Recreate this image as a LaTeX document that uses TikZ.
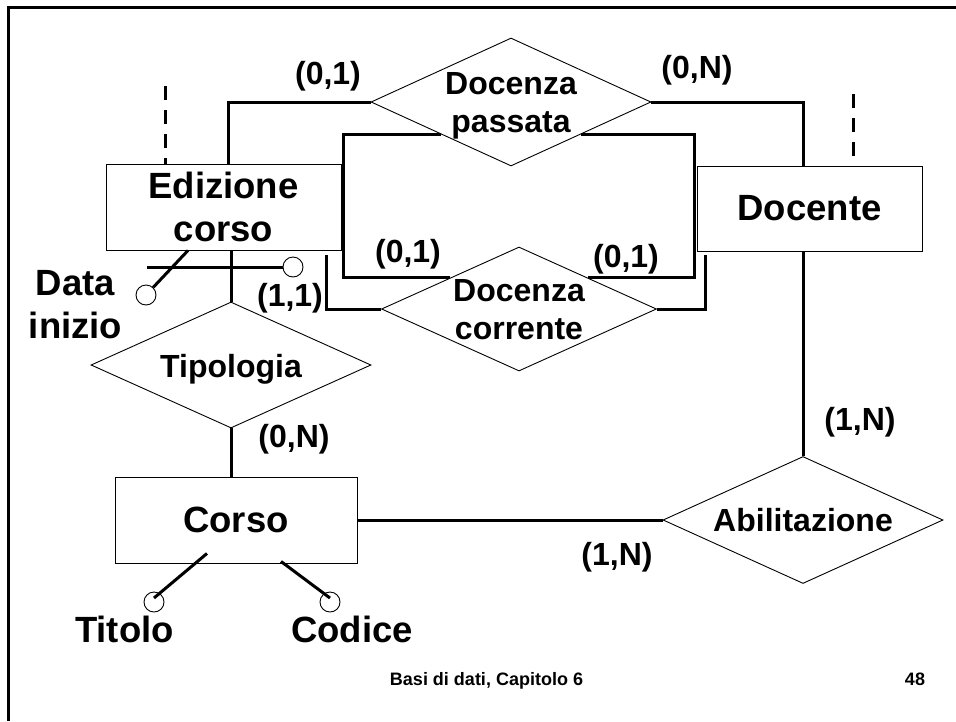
\documentclass[tikz,border=0pt]{standalone}
\usepackage{fontspec}
\setmainfont{Liberation Sans}
\usetikzlibrary{shapes.geometric,calc}
\begin{document}
\begin{tikzpicture}[x=1pt,y=-1pt,
      entity/.style={draw,line width=0.9pt,minimum height=86pt,inner sep=0pt,align=center,font=\fontsize{36.5}{43}\selectfont\bfseries},
      relation/.style={draw,diamond,line width=0.9pt,minimum width=280pt,minimum height=127pt,inner sep=0pt},
      reltext/.style={align=center,inner sep=0pt,font=\fontsize{32}{38}\selectfont\bfseries},
      card/.style={inner sep=0pt,font=\fontsize{32}{38}\selectfont\bfseries},
      attrtext/.style={align=center,inner sep=0pt,font=\fontsize{36.5}{43}\selectfont\bfseries},
      dot/.style={draw,circle,line width=0.9pt,minimum size=20pt,inner sep=0pt},
      link/.style={line width=3pt},
      dlink/.style={line width=3pt,dash pattern=on 14pt off 10pt}]
      \useasboundingbox (0,0) rectangle (956,721);
      \draw[line width=3pt] (8.5,721) -- (8.5,7.5) -- (956,7.5);
      \node[entity,minimum width=235pt] (ed) at (223.5,207) {Edizione\\corso};
      \node[entity,minimum width=225pt,minimum height=85pt] (doc) at (809.5,208.5) {Docente};
      \node[entity,minimum width=242pt] (co) at (236,520) {Corso};
      \node[relation,minimum height=128pt] (dp) at (511,102) {};
      \node[relation,minimum width=275pt,minimum height=124pt] (dc) at (519,309) {};
      \node[relation,minimum height=126pt] (tp) at (231,365) {};
      \node[relation] (ab) at (803,520) {};
      \node[reltext] (dptext) at (511,106) {Docenza\\passata};
      \node[reltext] (dctext) at (519,310) {Docenza\\corrente};
      \node[reltext] (tptext) at (231,369) {Tipologia};
      \node[reltext] (abtext) at (803,520.5) {Abilitazione};
      \draw[link] ([xshift=4.5pt]ed.north) |- (dp.west);
      \draw[link] (dp.east) -| ([xshift=-6.5pt]doc.north);
      \draw[link] (dp.south west) -| ($(ed.east)+(2,0)$) |- (dc.north west);
      \draw[link] (dp.south east) -| ($(doc.west)+(-2,0)$) |- (dc.north east);
      \coordinate (ccl) at (326.5,255);
      \coordinate (ccr) at (705,255);
      \draw[link] (ccl) |- (dc.west);
      \draw[link] (ccr) |- (dc.east);
      \draw[link] (tp.north |- ed.south) -- (tp.north);
      \draw[link] (tp.south) -- (tp.south |- co.north);
      \draw[link] (co.east) -- (ab.west);
      \draw[link] ([xshift=-6.5pt]doc.south) -- (ab.north);
      \coordinate (edtop) at (165,86);
      \coordinate (doctop) at (853,94);
      \draw[dlink] (edtop) -- (edtop |- ed.north);
      \draw[dlink] (doctop) -- (doctop |- doc.north);
      \node[dot] (din) at (146,295) {};
      \node[dot] (idc) at (293,267) {};
      \node[dot] (tit) at (154,602) {};
      \node[dot] (cod) at (330,602) {};
      \coordinate (ids) at (147,267);
      \draw[link] ([xshift=-35.5pt]ed.south) -- (din);
      \draw[link] (ids) -- (idc);
      \draw[link] ($(co.south)+(-29,-10)$) -- ($(tit.center)+(0,-4)$);
      \draw[link] ($(co.south)+(45,-2)$) -- ($(cod.center)+(0,-4)$);
      \node[attrtext] (dintext) at (75.5,305) {Data\\inizio};
      \node[attrtext,anchor=base] (tittext) at (124.5,642) {Titolo};
      \node[attrtext,anchor=base] (codtext) at (352,642) {Codice};
      \node[card] (c1) at (328,76) {(0,1)};
      \node[card] (c2) at (697,70.5) {(0,N)};
      \node[card] (c3) at (408,254) {(0,1)};
      \node[card] (c4) at (626,259) {(0,1)};
      \node[card] (c5) at (290,298.5) {(1,1)};
      \node[card] (c6) at (294,439) {(0,N)};
      \node[card] (c7) at (860,422.5) {(1,N)};
      \node[card] (c8) at (617,557.5) {(1,N)};
      \node[anchor=base,inner sep=0pt,font=\fontsize{18}{22}\selectfont\bfseries] (foot) at (486.5,685) {Basi di dati, Capitolo 6};
      \node[anchor=base,inner sep=0pt,font=\fontsize{18}{22}\selectfont\bfseries] (page) at (915,685) {48};
\end{tikzpicture}
\end{document}
